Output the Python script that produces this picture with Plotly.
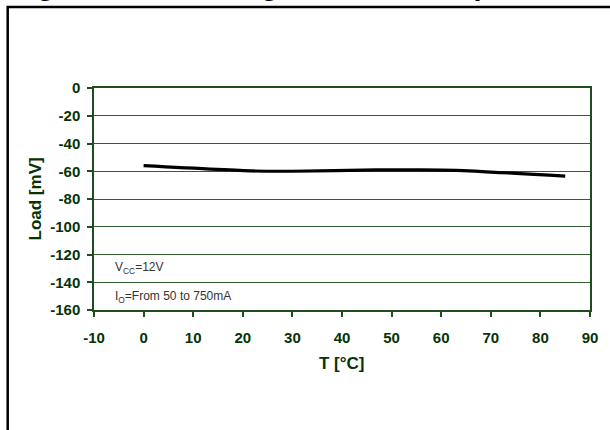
import plotly.graph_objects as go

# ---- data ----
temps_c = [0, 22, 30, 47, 55, 63, 85]
load_mv = [-56, -59.8, -60, -59, -59, -59.3, -63.5]
x_tick_vals = [-10, 0, 10, 20, 30, 40, 50, 60, 70, 80, 90]
y_tick_vals = [0, -20, -40, -60, -80, -100, -120, -140, -160]
title_text = "Figure 10. Load regulation vs temperature"
note_vcc = "V<sub>CC</sub>=12V"
note_io = "I<sub>O</sub>=From 50 to 750mA"
x_title = "T [°C]"
y_title = "Load [mV]"

# ---- layout geometry ----
W, H = 610, 430
ML, MR, MT, MB = 94, 16, 88, 120
PW, PH = W - ML - MR, H - MT - MB

def px(xp):
    return (xp - ML) / PW

def py(yp):
    return (H - MB - yp) / PH

GREEN_TXT = "#053305"
GREEN_LINE = "#1e4e1e"
GRID = "#2f5f2f"
FONT = "Liberation Sans, Arial, sans-serif"

fig = go.Figure()
fig.add_trace(go.Scatter(
    x=temps_c, y=load_mv, mode="lines",
    line=dict(color="black", width=3.2, shape="spline", smoothing=0.6),
    showlegend=False, hoverinfo="skip",
))

fig.update_layout(
    width=W, height=H,
    margin=dict(l=ML, r=MR, t=MT, b=MB, pad=0),
    paper_bgcolor="white", plot_bgcolor="white",
    font=dict(family=FONT),
    showlegend=False,
)

fig.update_xaxes(
    range=[-10, 90], tickvals=x_tick_vals,
    ticktext=[str(v) for v in x_tick_vals],
    showgrid=False, zeroline=False,
    showline=True, linecolor=GREEN_LINE, linewidth=1.5, mirror=True,
    ticks="outside", ticklen=5, tickcolor=GREEN_LINE, tickwidth=1.5,
    tickfont=dict(family=FONT, size=15, color=GREEN_TXT, weight="bold"),
    ticklabelstandoff=8,
)
fig.update_yaxes(
    range=[-160, 0], tickvals=y_tick_vals,
    ticktext=[str(v) for v in y_tick_vals],
    showgrid=True, gridcolor=GRID, gridwidth=1.2, zeroline=False,
    showline=True, linecolor=GREEN_LINE, linewidth=1.5, mirror=True,
    ticks="outside", ticklen=5, tickcolor=GREEN_LINE, tickwidth=1.5,
    tickfont=dict(family=FONT, size=15, color=GREEN_TXT, weight="bold"),
    ticklabelstandoff=4,
)

# outer frame (top and left edges)
fig.add_shape(
    type="path", xref="paper", yref="paper",
    path=f"M {px(7)} {py(440)} L {px(7)} {py(7)} L {px(620)} {py(7)}",
    line=dict(color="black", width=2.5),
)

annotations = [
    dict(text=f"<b>{title_text}</b>", x=px(8), y=py(3), xref="paper", yref="paper",
         xanchor="left", yanchor="bottom", showarrow=False,
         font=dict(family=FONT, size=29, color="black")),
    dict(text=y_title, x=px(35), y=py(199), xref="paper", yref="paper",
         xanchor="center", yanchor="middle", textangle=-90, showarrow=False,
         font=dict(family=FONT, size=17, color=GREEN_TXT, weight="bold")),
    dict(text=x_title, x=px(344), y=py(363), xref="paper", yref="paper",
         xanchor="center", yanchor="middle", showarrow=False,
         font=dict(family=FONT, size=17, color=GREEN_TXT, weight="bold")),
    dict(text=note_vcc, x=-6.2, y=-129.5, xref="x", yref="y",
         xanchor="left", yanchor="middle", showarrow=False,
         font=dict(family=FONT, size=12, color="#333333")),
    dict(text=note_io, x=-6.2, y=-150.4, xref="x", yref="y",
         xanchor="left", yanchor="middle", showarrow=False,
         font=dict(family=FONT, size=12, color="#333333")),
]
fig.update_layout(annotations=annotations)

fig.write_html(
    "out.html",
    config={"displayModeBar": False},
    post_script="document.body.style.margin='0';document.body.style.padding='0';",
)
